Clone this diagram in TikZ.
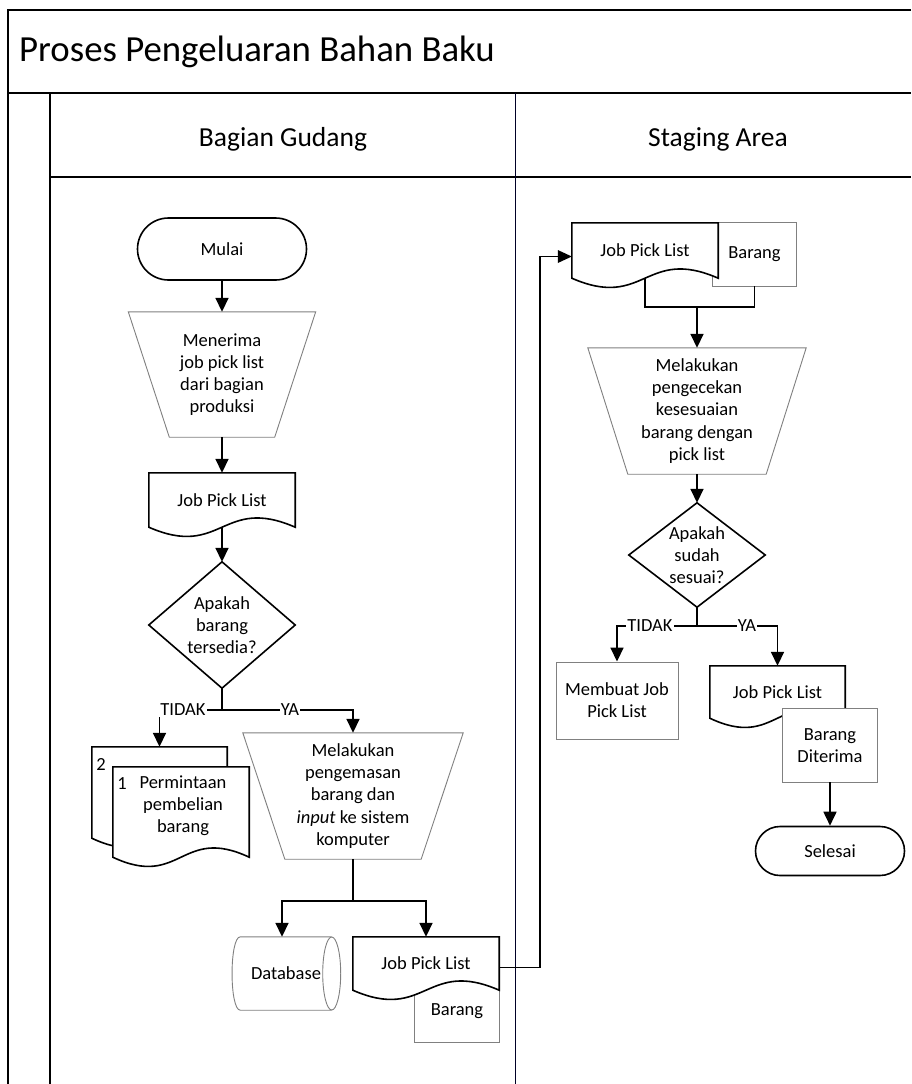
\documentclass[tikz,border=0pt]{standalone}
\usepackage{fontspec}
\setmainfont{Carlito}
\usetikzlibrary{arrows.meta,calc}
\pgfdeclarelayer{lanes}
\pgfdeclarelayer{shapes}
\pgfsetlayers{lanes,shapes,main}

% document symbol with a wavy bottom edge, drawn round a named node
\newcommand{\drawdoc}[2][]{%
  \draw[bold,#1] (#2.south west) -- (#2.north west) -- (#2.north east) -- (#2.south east)
    .. controls ($(#2.south)+(0,-32)$) and ($(#2.south)+(0,32)$) .. (#2.south west) -- cycle;}
% manual operation (trapezium, wide side on top)
\newcommand{\manualop}[2]{%
  \draw[fine] (#1.north west) -- (#1.north east) -- ([xshift=-#2]#1.south east)
    -- ([xshift=#2]#1.south west) -- cycle;}

\begin{document}
\begin{tikzpicture}[x=1pt,y=-1pt,
  tx/.style={inner sep=0pt, align=center, font=\fontsize{18.5}{22.2}\selectfont},
  bold/.style={draw=black, line width=1.6pt, fill=white},
  fine/.style={draw=black!50, line width=0.9pt, fill=white},
  flow/.style={line width=1.7pt, -{Triangle[length=14pt,width=13pt]}},
  link/.style={line width=1.7pt},
  tag/.style={fill=white, inner sep=1pt, font=\fontsize{18.5}{22}\selectfont},
  frame/.style={line width=1.6pt}]
\useasboundingbox (0,0) rectangle (911,1084);

% ---------- pool and swimlanes ----------
\begin{pgfonlayer}{lanes}
  \fill[white] (0,0) rectangle (911,1084);
  \draw[frame] (911,10) -- (8,10) -- (8,1084);
  \draw[frame] (8,93) -- (911,93);
  \draw[frame] (50,93) -- (50,1084);
  \draw[frame] (50,177) -- (911,177);
  \draw[line width=1pt, draw=black!85!blue] (515,93) -- (515,1084);
\end{pgfonlayer}

\node[anchor=west, inner sep=0pt, font=\fontsize{36.8}{40}\selectfont] (title) at (19,52) {Proses Pengeluaran Bahan Baku};
\node[inner sep=0pt, font=\fontsize{27.5}{30}\selectfont] (laneA) at (283,139.5) {Bagian Gudang};
\node[inner sep=0pt, font=\fontsize{27.5}{30}\selectfont] (laneB) at (718,139.5) {Staging Area};

% ---------- Bagian Gudang ----------
\node[tx, bold, rounded corners=31pt, minimum width=169pt, minimum height=62pt] (mulai) at (222,249) {Mulai};
\node[tx, minimum width=187pt, minimum height=125pt] (recv) at (222,374.5) {Menerima\\job pick list\\dari bagian\\produksi};
\node[tx, minimum width=146pt, minimum height=54pt] (job1) at (222,500) {Job Pick List};
\node[tx, minimum width=146pt, minimum height=126pt] (dia1) at (222,625) {Apakah\\barang\\tersedia?};
\coordinate (br1) at (222,710);

\node[tx, minimum width=135pt, minimum height=91pt] (perm2) at (159.5,792.5) {};
\node[tx, minimum width=136pt, minimum height=90pt] (perm1) at (181,812) {};
\node[tx] (permtxt) at (183,806) {Permintaan\\pembelian\\barang};
\node[tx] (num2) at (101,764) {2};
\node[tx] (num1) at (122,784) {1};

\node[tx, minimum width=220pt, minimum height=126pt] (pack) at (353,796) {Melakukan\\pengemasan\\barang dan\\\textit{input} ke sistem\\komputer};
\coordinate (br2) at (353,901);

\node[tx, minimum width=91pt, minimum height=73pt] (db) at (286,973.5) {Database};
\node[tx, minimum width=146pt, minimum height=53pt] (job2) at (426,963.5) {Job Pick List};
\node[tx, minimum width=84pt, minimum height=62pt] (brg2) at (457,1011) {Barang};

% ---------- Staging Area ----------
\node[tx, minimum width=83pt, minimum height=63pt] (brg3) at (754.5,254.5) {Barang};
\node[tx, minimum width=146pt, minimum height=55pt] (job3) at (645,250.5) {Job Pick List};
\coordinate (mrg) at (697,307);
\node[tx, minimum width=218pt, minimum height=126pt] (chk) at (697,411) {Melakukan\\pengecekan\\kesesuaian\\barang dengan\\pick list};
\node[tx, minimum width=136pt, minimum height=104pt] (dia2) at (697,555) {Apakah\\sudah\\sesuai?};
\coordinate (br3) at (697,626);
\node[tx, fine, minimum width=122pt, minimum height=77pt] (mbj) at (617,700.5) {Membuat Job\\Pick List};
\node[tx, minimum width=135pt, minimum height=52pt] (job4) at (777.5,692) {Job Pick List};
\node[tx, minimum width=94pt, minimum height=73pt] (brg4) at (830,745.5) {Barang\\Diterima};
\node[tx, bold, rounded corners=24.5pt, minimum width=149pt, minimum height=49pt] (sel) at (830,851) {Selesai};

% ---------- symbol outlines ----------
\begin{pgfonlayer}{shapes}
  \manualop{recv}{41pt}
  \drawdoc{job1}
  \draw[bold] (dia1.north) -- (dia1.east) -- (dia1.south) -- (dia1.west) -- cycle;
  \drawdoc{perm2}
  \drawdoc{perm1}
  \manualop{pack}{42pt}
  \draw[fine] (db.north east) -- (db.north west)
    .. controls ([xshift=-11pt]db.north west) and ([xshift=-11pt]db.south west) .. (db.south west)
    -- (db.south east);
  \draw[fine] (db.east) ellipse [x radius=9pt, y radius=36.5pt];
  \draw[fine] (brg2.north west) rectangle (brg2.south east);
  \drawdoc{job2}
  \draw[fine] (brg3.north west) rectangle (brg3.south east);
  \drawdoc{job3}
  \manualop{chk}{40pt}
  \draw[bold] (dia2.north) -- (dia2.east) -- (dia2.south) -- (dia2.west) -- cycle;
  \drawdoc{job4}
  \draw[fine] (brg4.north west) rectangle (brg4.south east);
\end{pgfonlayer}

% ---------- connectors ----------
\draw[flow] (mulai.south) -- (recv.north);
\draw[flow] (recv.south) -- (job1.north);
\draw[flow] (job1.south) -- (dia1.north);
\draw[link] (dia1.south) -- (br1);
\draw[flow] (br1) -| (perm2.north);
\draw[flow] (br1) -| (pack.north);
\node[tag] at (183,710) {TIDAK};
\node[tag] at (290,710) {YA};
\draw[link] (pack.south) -- (br2);
\draw[flow] (br2) -| ([xshift=-4pt]db.north);
\draw[flow] (br2) -| (job2.north);

% hand-over of the pick list to the staging area
\coordinate (handA) at (540,967.5);
\coordinate (handB) at (540,256.5);
\coordinate (tipJ) at (handB -| job3.west);
\draw[link] ([yshift=-4pt]job2.east) -- (handA) -- (handB) -- ([xshift=-12pt]tipJ);
\fill (tipJ) -- ([xshift=-14pt,yshift=6.5pt]tipJ) -- ([xshift=-14pt,yshift=-6.5pt]tipJ) -- cycle;

\draw[link] (job3.south) |- (mrg) -| (brg3.south);
\draw[flow] (mrg) -- (chk.north);
\draw[flow] (chk.south) -- (dia2.north);
\draw[link] (dia2.south) -- (br3);
\draw[flow] (br3) -| (mbj.north);
\draw[flow] (br3) -| (job4.north);
\node[tag] at (650,626) {TIDAK};
\node[tag] at (747,626) {YA};
\draw[flow] (brg4.south) -- (brg4.south |- sel.north);
\end{tikzpicture}
\end{document}
